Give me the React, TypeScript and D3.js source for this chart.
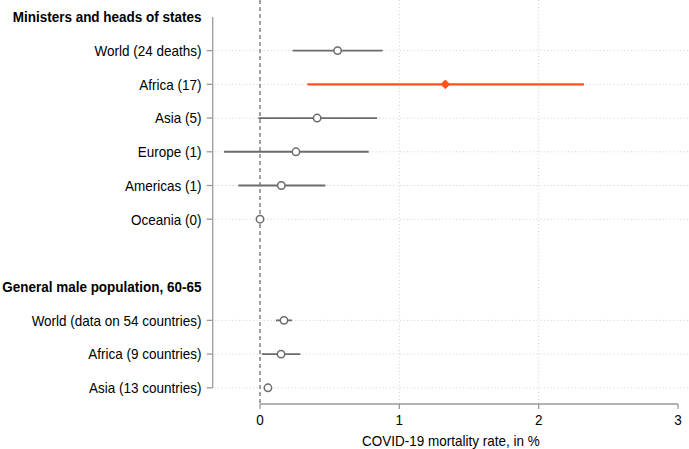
import React from "react";
import * as d3 from "d3";

const group1Header = "Ministers and heads of states";
const group1Labels = ["World (24 deaths)", "Africa (17)", "Asia (5)", "Europe (1)", "Americas (1)", "Oceania (0)"];
const group1Est = [0.557, 1.33, 0.41, 0.258, 0.153, 0];
const group1Lo: (number | null)[] = [0.235, 0.34, -0.012, -0.258, -0.156, null];
const group1Hi: (number | null)[] = [0.88, 2.325, 0.84, 0.78, 0.469, null];
const group1Highlight = [false, true, false, false, false, false];

const group2Header = "General male population, 60-65";
const group2Labels = ["World (data on 54 countries)", "Africa (9 countries)", "Asia (13 countries)"];
const group2Est = [0.172, 0.151, 0.057];
const group2Lo: (number | null)[] = [0.115, 0.014, 0.03];
const group2Hi: (number | null)[] = [0.23, 0.29, 0.086];

const xTicks = [0, 1, 2, 3];
const xTitle = "COVID-19 mortality rate, in %";

const W = 689;
const H = 449;
const GRAY = "#6b6b6b";
const ORANGE = "#ff5319";
const AXIS = "#9a9a9a";
const GRID = "#cfcfcf";
const FONT = "'Liberation Sans', Arial, sans-serif";
const FS = 15;
const SX = 0.9;

type Row = { kind: "header" | "data"; label: string; idx: number; est?: number; lo?: number | null; hi?: number | null; hl?: boolean };

function T(props: { x: number; y: number; anchor: "start" | "middle" | "end"; bold?: boolean; children: React.ReactNode }) {
  return (
    <text
      transform={`translate(${props.x},${props.y}) scale(${SX},1)`}
      dy="0.36em"
      textAnchor={props.anchor}
      fontSize={FS}
      fontWeight={props.bold ? "bold" : "normal"}
      fill="#000"
    >
      {props.children}
    </text>
  );
}

export default function App() {
  const x = d3.scaleLinear().domain([0, 3]).range([260, 678]);
  const y = d3.scaleLinear().domain([0, 11]).range([16.9, 387.8]);
  const axisX = 212.7;
  const axisY = 404;

  const rows: Row[] = [];
  rows.push({ kind: "header", label: group1Header, idx: 0 });
  group1Labels.forEach((l, i) =>
    rows.push({ kind: "data", label: l, idx: 1 + i, est: group1Est[i], lo: group1Lo[i], hi: group1Hi[i], hl: group1Highlight[i] })
  );
  rows.push({ kind: "header", label: group2Header, idx: 8 });
  group2Labels.forEach((l, i) =>
    rows.push({ kind: "data", label: l, idx: 9 + i, est: group2Est[i], lo: group2Lo[i], hi: group2Hi[i], hl: false })
  );
  const dataRows = rows.filter((r) => r.kind === "data");

  return (
    <svg width={W} height={H} style={{ position: "absolute", left: 0, top: 0, background: "#fff" }} fontFamily={FONT}>
      <rect x={0} y={0} width={W} height={H} fill="#fff" />
      {dataRows.map((r) => (
        <line key={"hg" + r.idx} x1={axisX + 2} x2={W} y1={y(r.idx)} y2={y(r.idx)} stroke={GRID} strokeWidth={1} strokeDasharray="1 2.5" />
      ))}
      {xTicks.filter((t) => t > 0 && t < 3).map((t) => (
        <line key={"vg" + t} x1={x(t)} x2={x(t)} y1={0} y2={axisY} stroke={GRID} strokeWidth={1} strokeDasharray="1 2.5" />
      ))}
      <line x1={x(0)} x2={x(0)} y1={0} y2={axisY} stroke="#707070" strokeWidth={1.3} strokeDasharray="4 3" />
      <line x1={axisX} x2={axisX} y1={y(0)} y2={y(11)} stroke={AXIS} strokeWidth={1.3} />
      {dataRows.map((r) => (
        <line key={"yt" + r.idx} x1={axisX - 6} x2={axisX} y1={y(r.idx)} y2={y(r.idx)} stroke={AXIS} strokeWidth={1.3} />
      ))}
      {rows.map((r) => (
        <T key={"yl" + r.idx} x={201.5} y={y(r.idx)} anchor="end" bold={r.kind === "header"}>
          {r.label}
        </T>
      ))}
      <line x1={x(0)} x2={x(3)} y1={axisY} y2={axisY} stroke={AXIS} strokeWidth={1.3} />
      {xTicks.map((t) => (
        <g key={"xt" + t}>
          <line x1={x(t)} x2={x(t)} y1={axisY} y2={axisY + 5} stroke={AXIS} strokeWidth={1.3} />
          <T x={x(t)} y={axisY + 16} anchor="middle">
            {t}
          </T>
        </g>
      ))}
      <T x={(axisX + W) / 2} y={440.5} anchor="middle">
        {xTitle}
      </T>
      {dataRows.map((r) =>
        r.lo != null && r.hi != null ? (
          <line key={"ci" + r.idx} x1={x(r.lo)} x2={x(r.hi)} y1={y(r.idx)} y2={y(r.idx)} stroke={r.hl ? ORANGE : GRAY} strokeWidth={r.hl ? 2.2 : 1.8} />
        ) : null
      )}
      {dataRows.map((r) =>
        r.hl ? (
          <path
            key={"m" + r.idx}
            d={d3.symbol().type(d3.symbolDiamond2).size(48)() as string}
            transform={`translate(${x(r.est as number)},${y(r.idx)})`}
            fill={ORANGE}
            stroke={ORANGE}
            strokeWidth={1}
          />
        ) : (
          <circle key={"m" + r.idx} cx={x(r.est as number)} cy={y(r.idx)} r={3.7} fill="#fff" stroke={GRAY} strokeWidth={1.5} />
        )
      )}
    </svg>
  );
}
